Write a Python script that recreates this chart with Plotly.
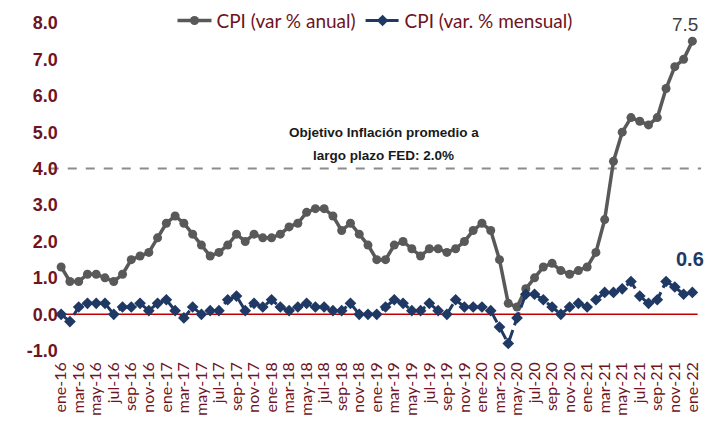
import plotly.graph_objects as go

meses = ["ene", "feb", "mar", "abr", "may", "jun", "jul", "ago", "sep", "oct", "nov", "dic"]
periodos = [f"{m}-{y}" for y in range(16, 22) for m in meses] + ["ene-22"]

cpi_anual = [
    1.3, 0.9, 0.9, 1.1, 1.1, 1.0, 0.9, 1.1, 1.5, 1.6, 1.7, 2.1,
    2.5, 2.7, 2.5, 2.2, 1.9, 1.6, 1.7, 1.9, 2.2, 2.0, 2.2, 2.1,
    2.1, 2.2, 2.4, 2.5, 2.8, 2.9, 2.9, 2.7, 2.3, 2.5, 2.2, 1.9,
    1.5, 1.5, 1.9, 2.0, 1.8, 1.6, 1.8, 1.8, 1.7, 1.8, 2.0, 2.3,
    2.5, 2.3, 1.5, 0.3, 0.2, 0.7, 1.0, 1.3, 1.4, 1.2, 1.1, 1.2,
    1.3, 1.7, 2.6, 4.2, 5.0, 5.4, 5.3, 5.2, 5.4, 6.2, 6.8, 7.0,
    7.5,
]
cpi_mensual = [
    0.0, -0.2, 0.2, 0.3, 0.3, 0.3, 0.0, 0.2, 0.2, 0.3, 0.1, 0.3,
    0.4, 0.1, -0.1, 0.2, 0.0, 0.1, 0.1, 0.4, 0.5, 0.1, 0.3, 0.2,
    0.4, 0.2, 0.1, 0.2, 0.3, 0.2, 0.2, 0.1, 0.1, 0.3, 0.0, 0.0,
    0.0, 0.2, 0.4, 0.3, 0.1, 0.1, 0.3, 0.1, 0.0, 0.4, 0.2, 0.2,
    0.2, 0.1, -0.35, -0.8, -0.1, 0.55, 0.55, 0.4, 0.2, 0.0, 0.2, 0.3,
    0.2, 0.4, 0.6, 0.6, 0.7, 0.9, 0.5, 0.3, 0.4, 0.9, 0.75, 0.55,
    0.6,
]
objetivo_linea = 4.0
objetivo_texto = ["Objetivo Inflación promedio a", "largo plazo FED: 2.0%"]
ytick_vals = [-1, 0, 1, 2, 3, 4, 5, 6, 7, 8]
ytick_text = ["-1.0", "0.0", "1.0", "2.0", "3.0", "4.0", "5.0", "6.0", "7.0", "8.0"]
xtick_labels = periodos[::2]

n = len(periodos)
maroon = "#6e1423"

fig = go.Figure()
fig.add_trace(go.Scatter(
    x=list(range(n)), y=cpi_anual, name="CPI (var % anual)",
    mode="lines+markers",
    line=dict(color="#595959", width=3.5),
    marker=dict(symbol="circle", size=9, color="#595959"),
))
fig.add_trace(go.Scatter(
    x=list(range(n)), y=cpi_mensual, name="CPI (var. % mensual)",
    mode="lines+markers",
    line=dict(color="#1f3864", width=3, dash="14px,5px"),
    marker=dict(symbol="diamond", size=9, color="#1f3864"),
))

fig.add_shape(type="line", x0=-1.3, x1=73.0, y0=objetivo_linea, y1=objetivo_linea,
              line=dict(color="#8c8c8c", width=2, dash="dash"), layer="below")
fig.add_shape(type="line", x0=0, x1=72.6, y0=0, y1=0,
              line=dict(color="#c00000", width=1.5), layer="below")

for txt, yv in zip(objetivo_texto, [4.99, 4.36]):
    fig.add_annotation(x=36.8, y=yv, text=txt, showarrow=False,
                       font=dict(family="Liberation Sans, Arial", size=13.5, color="#1a1a1a", weight="bold"))
fig.add_annotation(x=n - 1, y=cpi_anual[-1], text=str(cpi_anual[-1]), showarrow=False,
                   xshift=-7, yshift=17,
                   font=dict(family="Liberation Sans, Arial", size=19, color="#404040"))
fig.add_annotation(x=n - 1, y=cpi_mensual[-1], text=str(cpi_mensual[-1]), showarrow=False,
                   xshift=-2, yshift=33,
                   font=dict(family="Liberation Sans, Arial", size=20, color="#1f3864", weight="bold"))

fig.update_layout(
    width=710, height=437,
    margin=dict(l=40, r=16, t=4, b=87, autoexpand=False),
    paper_bgcolor="white", plot_bgcolor="white",
    showlegend=True,
    legend=dict(orientation="h", x=0.5, xanchor="center", y=0.975, yanchor="middle",
                font=dict(family="Lato, Liberation Sans", size=19, color=maroon),
                bgcolor="rgba(0,0,0,0)", itemwidth=34),
    xaxis=dict(range=[-1.5, 73.1], domain=[0, 1], tickmode="array", tickvals=list(range(0, n, 2)),
               ticktext=xtick_labels, tickangle=-90, showgrid=False, zeroline=False,
               showline=False, ticks="", ticklen=0, automargin=False,
               tickfont=dict(family="Lato, Liberation Sans", size=16, color=maroon)),
    yaxis=dict(range=[-1.2, 8.3], tickmode="array", tickvals=ytick_vals, ticktext=ytick_text,
               anchor="free", position=0.015,
               showgrid=False, zeroline=False, showline=False, ticks="", ticklen=0, automargin=False,
               tickfont=dict(family="Liberation Sans, Arial", size=18, color=maroon, weight="bold")),
)

fig.write_html("out.html")
